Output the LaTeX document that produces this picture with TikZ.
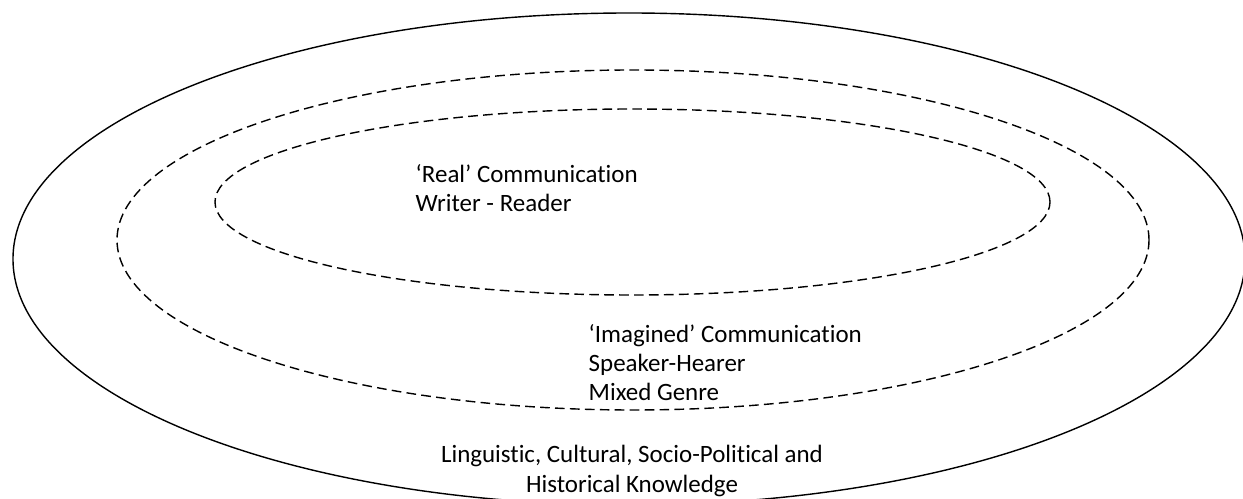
\documentclass[tikz,border=0pt]{standalone}
\usepackage{fontspec}
\setmainfont{Carlito}[Ligatures=NoCommon]
\begin{document}
\begin{tikzpicture}[line width=0.8pt,
    solidring/.style = {draw},
    dashring/.style = {draw, dash pattern=on 5.5pt off 3pt},
    txt/.style = {inner sep=0pt, align=left, font=\fontsize{14.2}{16.6}\selectfont}]
  \useasboundingbox (0,0) rectangle (24.86,9.96);
  % outer knowledge ring and the two communication rings
  \draw[solidring] (12.58,4.78) ellipse [x radius=12.32, y radius=4.92];
  \draw[dashring] (12.66,5.16) ellipse [x radius=10.32, y radius=3.40];
  \draw[dashring] (12.65,5.92) ellipse [x radius=8.35, y radius=1.86];
  % base anchor sits on the last line
  \node[txt, anchor=base west] (real) at (8.30,5.72) {‘Real’ Communication\\Writer - Reader};
  \node[txt, anchor=base west] (imagined) at (11.76,1.94) {‘Imagined’ Communication\\Speaker-Hearer\\Mixed Genre};
  \node[txt, align=center, anchor=base] (knowledge) at (12.64,0.12) {Linguistic, Cultural, Socio-Political and\\Historical Knowledge};
\end{tikzpicture}
\end{document}
